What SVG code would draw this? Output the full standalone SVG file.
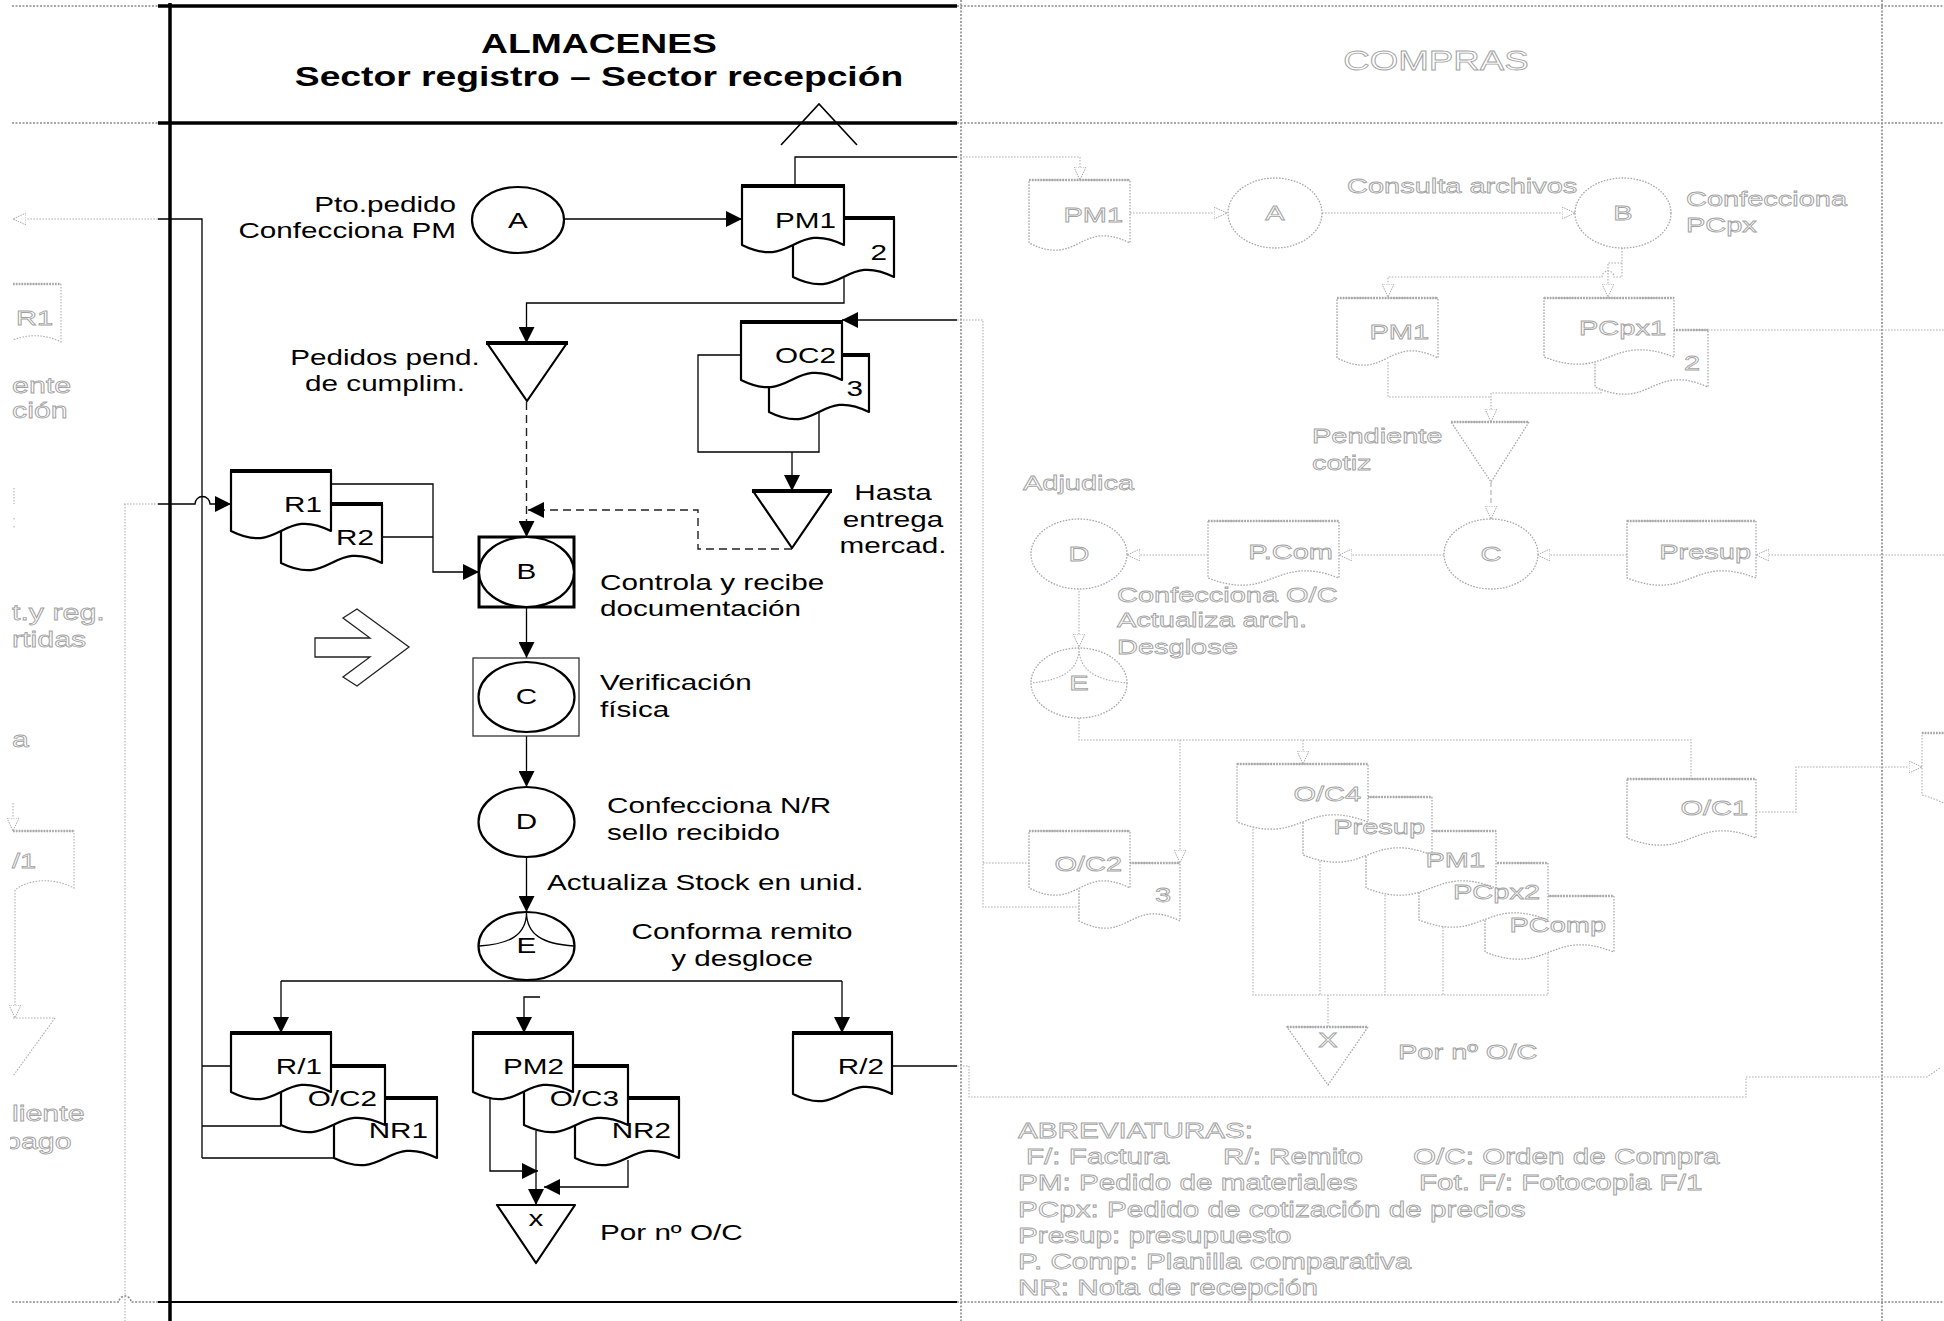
<svg xmlns="http://www.w3.org/2000/svg" width="1944" height="1321" viewBox="0 0 1944 1321">
<defs>
<style>
.k{fill:none;stroke:#000;stroke-width:1.3}
.kd{fill:none;stroke:#222;stroke-width:1.4;stroke-dasharray:8 5}
.nd{fill:#fff;stroke:#000;stroke-width:2.2;stroke-linejoin:round}
.tp{fill:none;stroke:#000;stroke-width:4.2}
.t{font-family:"Liberation Sans",Arial,Helvetica,sans-serif;font-size:21.5px;fill:#000}
.tb{font-family:"Liberation Sans",Arial,Helvetica,sans-serif;font-size:27px;font-weight:bold;fill:#000}
.g{fill:none;stroke:#b0b0b0;stroke-width:1.1;stroke-dasharray:1.6 1.4}
.gd{fill:none;stroke:#b0b0b0;stroke-width:1.1;stroke-dasharray:5 3}
.gn{fill:#fff;stroke:#a8a8a8;stroke-width:1.3;stroke-dasharray:1.6 1.4}
.gtp{fill:none;stroke:#a8a8a8;stroke-width:2.6;stroke-dasharray:1.6 1.2}
.ln{fill:none;stroke:#8c8c8c;stroke-width:1.6;stroke-dasharray:2 1.5}
.gt{font-family:"Liberation Sans",Arial,Helvetica,sans-serif;font-size:21px;fill:#fff;stroke:#a3a3a3;stroke-width:0.8}
</style>
<marker id="ah" markerUnits="userSpaceOnUse" markerWidth="17" markerHeight="16" refX="16" refY="8" orient="auto"><path d="M0,0 L16,8 L0,16 z" fill="#000"/></marker>
<marker id="ag" markerUnits="userSpaceOnUse" markerWidth="14" markerHeight="12" refX="13" refY="6" orient="auto"><path d="M0,0 L13,6 L0,12 z" fill="#fff" stroke="#a8a8a8" stroke-width="1" stroke-dasharray="1.5 1"/></marker>
<clipPath id="lc"><rect x="10" y="0" width="150" height="1321"/></clipPath>
</defs>
<rect x="0" y="0" width="1944" height="1321" fill="#fff"/>

<!-- lanes -->
<g id="lanes">
<path class="ln" d="M12,6 H158 M12,123 H158 M957,6 H1944 M957,123 H1944 M957,1302 H1944 M961,0 V1321 M1882,0 V1321"/>
<path class="ln" d="M12,1302 H119 A6,6 0 0 1 131,1302 H158"/>
<path d="M158,6 H957 M158,123 H957" stroke="#000" stroke-width="3.5" fill="none"/>
<path d="M170,3 V1321" stroke="#000" stroke-width="3.5" fill="none"/>
<path d="M158,1302 H957" stroke="#000" stroke-width="2" fill="none"/>
<text class="tb" transform="translate(599 53) scale(1.38 1)" text-anchor="middle">ALMACENES</text>
<text class="tb" transform="translate(599 86) scale(1.38 1)" text-anchor="middle">Sector registro – Sector recepción</text>
<text class="gt" style="font-size:27px" transform="translate(1436 70) scale(1.36 1)" text-anchor="middle">COMPRAS</text>
</g>

<!-- faded connectors (COMPRAS and left) -->
<g id="faded-connectors">
<path class="g" d="M158,219 H13" marker-end="url(#ag)"/>
<path class="g" d="M125,504 V1321"/>
<path class="g" d="M957,157 H1080 V180" marker-end="url(#ag)"/>
<path class="g" d="M1130,213 H1227" marker-end="url(#ag)"/>
<path class="g" d="M1322,213 H1575" marker-end="url(#ag)"/>
<path class="g" d="M1622,248 V277 H1614 A6,6 0 0 0 1602,277 H1388 V297" marker-end="url(#ag)"/>
<path class="g" d="M1622,263 H1608 V297" marker-end="url(#ag)"/>
<path class="g" d="M1388,362 V397 H1491 M1601,389 V393 H1491"/>
<path class="g" d="M1491,393 V422" marker-end="url(#ag)"/>
<path class="gd" d="M1491,482 V519" marker-end="url(#ag)"/>
<path class="g" d="M1944,555 H1756" marker-end="url(#ag)"/>
<path class="g" d="M1627,555 H1537" marker-end="url(#ag)"/>
<path class="g" d="M1444,555 H1339" marker-end="url(#ag)"/>
<path class="g" d="M1208,555 H1127" marker-end="url(#ag)"/>
<path class="g" d="M1079,588 V647" marker-end="url(#ag)"/>
<path class="g" d="M1079,718 V740 H1691 V779"/>
<path class="g" d="M1180,740 V863" marker-end="url(#ag)"/>
<path class="g" d="M1303,740 V764" marker-end="url(#ag)"/>
<path class="g" d="M1756,812 H1796 V767 H1922" marker-end="url(#ag)"/>
<path class="g" d="M1253,826 V995 H1548 V920 M1320,858 V995 M1385,892 V995 M1443,924 V995 M1328,995 V1027"/>
<path class="g" d="M957,320 H983 V907 H1079 M983,863 H1029"/>
<path class="g" d="M957,1066 H969 V1097 H1746 V1077 H1927 L1940,1068"/>
<path class="g" d="M13,803 V831" marker-end="url(#ag)"/>
<path class="g" d="M15,890 V1018" marker-end="url(#ag)"/>
</g>

<!-- faded nodes -->
<g id="c-PM1a"><path class="gn" d="M1029,180 H1130 V243 C1079.5,218 1079.5,268 1029,243 Z"/><path class="gtp" d="M1029,180 H1130"/><text class="gt" transform="translate(1123 222) scale(1.38 1)" text-anchor="end">PM1</text></g>
<g id="c-A"><ellipse class="gn" cx="1275" cy="213" rx="47" ry="35"/><text class="gt" transform="translate(1275 220) scale(1.38 1)" text-anchor="middle">A</text></g>
<g id="c-B"><ellipse class="gn" cx="1623" cy="213" rx="48" ry="35"/><text class="gt" transform="translate(1623 220) scale(1.38 1)" text-anchor="middle">B</text></g>
<text class="gt" transform="translate(1347 193) scale(1.38 1)">Consulta archivos</text>
<text class="gt" transform="translate(1686 206) scale(1.38 1)">Confecciona</text>
<text class="gt" transform="translate(1686 232) scale(1.38 1)">PCpx</text>
<g id="c-PM1b"><path class="gn" d="M1337,298 H1438 V358 C1387.5,333 1387.5,383 1337,358 Z"/><path class="gtp" d="M1337,298 H1438"/><text class="gt" transform="translate(1429 339) scale(1.38 1)" text-anchor="end">PM1</text></g>
<g id="c-PCpx1">
<path class="gn" d="M1595,330 H1708 V387 C1651.5,362 1651.5,412 1595,387 Z"/><path class="gtp" d="M1595,330 H1708"/>
<path class="gn" d="M1544,298 H1674 V357 C1609,332 1609,382 1544,357 Z"/><path class="gtp" d="M1544,298 H1674"/>
<text class="gt" transform="translate(1666 335) scale(1.38 1)" text-anchor="end">PCpx1</text>
<text class="gt" transform="translate(1700 370) scale(1.38 1)" text-anchor="end">2</text>
</g>
<path class="g" d="M1708,330 H1944"/>
<g id="c-pend"><path class="gn" d="M1451,422 H1529 L1491,482 Z"/><path class="gtp" d="M1451,422 H1529"/>
<text class="gt" transform="translate(1312 443) scale(1.38 1)">Pendiente</text>
<text class="gt" transform="translate(1312 470) scale(1.38 1)">cotiz</text></g>
<text class="gt" transform="translate(1023 490) scale(1.38 1)">Adjudica</text>
<g id="c-C"><ellipse class="gn" cx="1491" cy="554" rx="47" ry="35"/><text class="gt" transform="translate(1491 561) scale(1.38 1)" text-anchor="middle">C</text></g>
<g id="c-Presup"><path class="gn" d="M1627,521 H1756 V578 C1691.5,553 1691.5,603 1627,578 Z"/><path class="gtp" d="M1627,521 H1756"/><text class="gt" transform="translate(1751 559) scale(1.38 1)" text-anchor="end">Presup</text></g>
<g id="c-PCom"><path class="gn" d="M1208,521 H1339 V578 C1273.5,553 1273.5,603 1208,578 Z"/><path class="gtp" d="M1208,521 H1339"/><text class="gt" transform="translate(1333 559) scale(1.38 1)" text-anchor="end">P.Com</text></g>
<g id="c-D"><ellipse class="gn" cx="1079" cy="554" rx="48" ry="35"/><text class="gt" transform="translate(1079 561) scale(1.38 1)" text-anchor="middle">D</text></g>
<text class="gt" transform="translate(1117 602) scale(1.38 1)">Confecciona O/C</text>
<text class="gt" transform="translate(1117 627) scale(1.38 1)">Actualiza arch.</text>
<text class="gt" transform="translate(1117 654) scale(1.38 1)">Desglose</text>
<g id="c-E"><ellipse class="gn" cx="1079" cy="683" rx="48" ry="35"/><path class="g" d="M1079,648 C1079,670 1063,680 1031,683 M1079,648 C1079,670 1095,680 1127,683"/><text class="gt" transform="translate(1079 690) scale(1.38 1)" text-anchor="middle">E</text></g>
<g id="c-OC2">
<path class="gn" d="M1079,863 H1180 V921 C1129.5,896 1129.5,946 1079,921 Z"/><path class="gtp" d="M1079,863 H1180"/>
<path class="gn" d="M1029,831 H1130 V888 C1079.5,863 1079.5,913 1029,888 Z"/><path class="gtp" d="M1029,831 H1130"/>
<text class="gt" transform="translate(1122 871) scale(1.38 1)" text-anchor="end">O/C2</text>
<text class="gt" transform="translate(1171 902) scale(1.38 1)" text-anchor="end">3</text>
</g>
<g id="c-OC4">
<path class="gn" d="M1485,896 H1614 V952 C1549.5,927 1549.5,977 1485,952 Z"/><path class="gtp" d="M1485,896 H1614"/>
<path class="gn" d="M1419,863 H1548 V920 C1483.5,895 1483.5,945 1419,920 Z"/><path class="gtp" d="M1419,863 H1548"/>
<path class="gn" d="M1366,831 H1496 V888 C1431,863 1431,913 1366,888 Z"/><path class="gtp" d="M1366,831 H1496"/>
<path class="gn" d="M1303,797 H1432 V855 C1367.5,830 1367.5,880 1303,855 Z"/><path class="gtp" d="M1303,797 H1432"/>
<path class="gn" d="M1237,764 H1368 V822 C1302.5,797 1302.5,847 1237,822 Z"/><path class="gtp" d="M1237,764 H1368"/>
<text class="gt" transform="translate(1361 801) scale(1.38 1)" text-anchor="end">O/C4</text>
<text class="gt" transform="translate(1425 834) scale(1.38 1)" text-anchor="end">Presup</text>
<text class="gt" transform="translate(1485 867) scale(1.38 1)" text-anchor="end">PM1</text>
<text class="gt" transform="translate(1540 899) scale(1.38 1)" text-anchor="end">PCpx2</text>
<text class="gt" transform="translate(1606 932) scale(1.38 1)" text-anchor="end">PComp</text>
</g>
<g id="c-OC1"><path class="gn" d="M1627,779 H1756 V838 C1691.5,813 1691.5,863 1627,838 Z"/><path class="gtp" d="M1627,779 H1756"/><text class="gt" transform="translate(1748 815) scale(1.38 1)" text-anchor="end">O/C1</text></g>
<g id="c-edge-doc"><path class="g" d="M1944,733 H1922 V795 C1930,797 1937,800 1944,803"/><path class="gtp" d="M1922,733 H1944"/></g>
<g id="c-X"><path class="gn" d="M1287,1027 H1368 L1328,1085 Z"/><path class="gtp" d="M1287,1027 H1368"/><text class="gt" transform="translate(1328 1047) scale(1.38 1)" text-anchor="middle">X</text>
<text class="gt" transform="translate(1398 1059) scale(1.38 1)">Por nº O/C</text></g>
<g id="abreviaturas">
<text class="gt" style="font-size:21.5px" transform="translate(1018 1138) scale(1.38 1)">ABREVIATURAS:</text>
<text class="gt" style="font-size:21.5px" transform="translate(1026 1164) scale(1.38 1)">F/: Factura</text>
<text class="gt" style="font-size:21.5px" transform="translate(1223 1164) scale(1.38 1)">R/: Remito</text>
<text class="gt" style="font-size:21.5px" transform="translate(1413 1164) scale(1.38 1)">O/C: Orden de Compra</text>
<text class="gt" style="font-size:21.5px" transform="translate(1018 1190) scale(1.38 1)">PM: Pedido de materiales</text>
<text class="gt" style="font-size:21.5px" transform="translate(1419 1190) scale(1.38 1)">Fot. F/: Fotocopia F/1</text>
<text class="gt" style="font-size:21.5px" transform="translate(1018 1217) scale(1.38 1)">PCpx: Pedido de cotización de precios</text>
<text class="gt" style="font-size:21.5px" transform="translate(1018 1243) scale(1.38 1)">Presup: presupuesto</text>
<text class="gt" style="font-size:21.5px" transform="translate(1018 1269) scale(1.38 1)">P. Comp: Planilla comparativa</text>
<text class="gt" style="font-size:21.5px" transform="translate(1018 1295) scale(1.38 1)">NR: Nota de recepción</text>
</g>

<!-- left edge partial lane -->
<g id="left-partial" clip-path="url(#lc)">
<path class="g" d="M13,284 H61 V342 C45,334 28,334 13,340"/>
<path class="gtp" d="M13,284 H61"/>
<text class="gt" transform="translate(16 325) scale(1.38 1)">R1</text>
<text class="gt" style="font-size:22px" transform="translate(12 393) scale(1.38 1)">ente</text>
<text class="gt" style="font-size:22px" transform="translate(12 418) scale(1.38 1)">ción</text>
<path class="g" d="M14,488 V504 M14,518 V521 M14,526 V529"/>
<text class="gt" style="font-size:22px" transform="translate(12 620) scale(1.38 1)">t.y reg.</text>
<text class="gt" style="font-size:22px" transform="translate(12 647) scale(1.38 1)">rtidas</text>
<text class="gt" style="font-size:22px" transform="translate(12 747) scale(1.38 1)">a</text>
<path class="g" d="M13,831 H74 V888 C55,878 30,878 15,890"/>
<path class="gtp" d="M13,831 H74"/>
<text class="gt" transform="translate(12 868) scale(1.38 1)">/1</text>
<path class="g" d="M13,1018 H55 L13,1076"/>
<text class="gt" style="font-size:22px" transform="translate(12 1121) scale(1.38 1)">liente</text>
<text class="gt" style="font-size:22px" transform="translate(4 1149) scale(1.38 1)">pago</text>
</g>

<!-- connectors (ALMACENES) -->
<g id="connectors">
<path class="k" d="M564,219 H742" marker-end="url(#ah)"/>
<path class="k" d="M795,186 V157 H957"/>
<path class="k" d="M844,278 V303 H526.5 V343" marker-end="url(#ah)"/>
<path class="kd" d="M526.5,402 V537" marker-end="url(#ah)"/>
<path class="k" d="M957,320 H842" marker-end="url(#ah)"/>
<path class="k" d="M741,355 H698 V452 H819 V413"/>
<path class="k" d="M792,452 V491" marker-end="url(#ah)"/>
<path class="kd" d="M792,549 H698 V510 H528" marker-end="url(#ah)"/>
<path class="g" d="M124,504 H158"/>
<path class="k" d="M158,504 H195 A7.5,7.5 0 0 1 210,504 H231" marker-end="url(#ah)"/>
<path class="k" d="M331,484 H433 V572 H479" marker-end="url(#ah)"/>
<path class="k" d="M382,537 H433"/>
<path class="k" d="M526.5,607 V658" marker-end="url(#ah)"/>
<path class="k" d="M526.5,736 V787" marker-end="url(#ah)"/>
<path class="k" d="M526.5,857 V912" marker-end="url(#ah)"/>
<path class="k" d="M281,981 H842"/>
<path class="k" d="M281,981 V1033" marker-end="url(#ah)"/>
<path class="k" d="M842,981 V1033" marker-end="url(#ah)"/>
<path class="k" d="M540,997 H524 V1033" marker-end="url(#ah)"/>
<path class="k" d="M158,219 H202 V1158 M202,1066 H231 M202,1126 H281 M202,1158 H334"/>
<path class="k" d="M490,1098 V1171 H538" marker-end="url(#ah)"/>
<path class="k" d="M536,1131 V1205" marker-end="url(#ah)"/>
<path class="k" d="M628,1160 V1187 H544" marker-end="url(#ah)"/>
<path class="k" d="M892,1066 H957"/>
<path class="k" style="stroke-width:1.6" d="M781,145 L819,104 L857,145"/>
</g>

<!-- nodes (ALMACENES) -->
<g id="n-A"><ellipse class="nd" cx="518" cy="220" rx="46" ry="33"/><text class="t" transform="translate(518 228) scale(1.38 1)" text-anchor="middle">A</text>
<text class="t" transform="translate(456 212) scale(1.38 1)" text-anchor="end">Pto.pedido</text>
<text class="t" transform="translate(456 238) scale(1.38 1)" text-anchor="end">Confecciona PM</text></g>
<g id="n-PM1">
<path class="nd" d="M793,218 H894 V277 C843.5,252 843.5,302 793,277 Z"/><path class="tp" d="M792,218 H895"/>
<path class="nd" d="M742,186 H844 V245 C793,220 793,270 742,245 Z"/><path class="tp" d="M741,186 H845"/>
<text class="t" transform="translate(836 228) scale(1.38 1)" text-anchor="end">PM1</text>
<text class="t" transform="translate(887 260) scale(1.38 1)" text-anchor="end">2</text>
</g>
<g id="n-pend"><path class="nd" d="M487,343 H567 L527,401 Z"/><path class="tp" d="M486,343 H568"/>
<text class="t" transform="translate(385 365) scale(1.38 1)" text-anchor="middle">Pedidos pend.</text>
<text class="t" transform="translate(385 391) scale(1.38 1)" text-anchor="middle">de cumplim.</text></g>
<g id="n-OC2">
<path class="nd" d="M769,355 H869 V412 C819,387 819,437 769,412 Z"/><path class="tp" d="M768,355 H870"/>
<path class="nd" d="M741,322 H842 V380 C791.5,355 791.5,405 741,380 Z"/><path class="tp" d="M740,322 H843"/>
<text class="t" transform="translate(836 363) scale(1.38 1)" text-anchor="end">OC2</text>
<text class="t" transform="translate(863 396) scale(1.38 1)" text-anchor="end">3</text>
</g>
<g id="n-hasta"><path class="nd" d="M753,491 H831 L792,548 Z"/><path class="tp" d="M752,491 H832"/>
<text class="t" transform="translate(893 500) scale(1.38 1)" text-anchor="middle">Hasta</text>
<text class="t" transform="translate(893 527) scale(1.38 1)" text-anchor="middle">entrega</text>
<text class="t" transform="translate(893 553) scale(1.38 1)" text-anchor="middle">mercad.</text></g>
<g id="n-R1">
<path class="nd" d="M281,504 H382 V563 C331.5,538 331.5,588 281,563 Z"/><path class="tp" d="M280,504 H383"/>
<path class="nd" d="M231,471 H331 V531 C281,506 281,556 231,531 Z"/><path class="tp" d="M230,471 H332"/>
<text class="t" transform="translate(322 512) scale(1.38 1)" text-anchor="end">R1</text>
<text class="t" transform="translate(374 545) scale(1.38 1)" text-anchor="end">R2</text>
</g>
<g id="n-B"><rect x="479" y="537" width="95" height="70" fill="#fff" stroke="#000" stroke-width="3"/><ellipse class="nd" cx="526.5" cy="572" rx="47.5" ry="35"/>
<text class="t" transform="translate(526.5 579) scale(1.38 1)" text-anchor="middle">B</text>
<text class="t" transform="translate(600 590) scale(1.38 1)">Controla y recibe</text>
<text class="t" transform="translate(600 616) scale(1.38 1)">documentación</text></g>
<g id="n-C"><rect x="473" y="658" width="106" height="78" fill="#fff" stroke="#333" stroke-width="1.3"/><ellipse class="nd" cx="526.5" cy="697" rx="48" ry="35"/>
<text class="t" transform="translate(526.5 704) scale(1.38 1)" text-anchor="middle">C</text>
<text class="t" transform="translate(600 690) scale(1.38 1)">Verificación</text>
<text class="t" transform="translate(600 717) scale(1.38 1)">física</text></g>
<g id="n-D"><ellipse class="nd" cx="526.5" cy="822" rx="48" ry="35"/>
<text class="t" transform="translate(526.5 829) scale(1.38 1)" text-anchor="middle">D</text>
<text class="t" transform="translate(607 813) scale(1.38 1)">Confecciona N/R</text>
<text class="t" transform="translate(607 840) scale(1.38 1)">sello recibido</text>
<text class="t" transform="translate(547 890) scale(1.38 1)">Actualiza Stock en unid.</text></g>
<g id="n-E"><ellipse class="nd" cx="526.5" cy="946" rx="48" ry="34"/>
<path class="k" d="M526.5,912 C526.5,935 510,944 479,946 M526.5,912 C526.5,935 543,944 574,946"/>
<text class="t" transform="translate(526.5 953) scale(1.38 1)" text-anchor="middle">E</text>
<text class="t" transform="translate(742 939) scale(1.38 1)" text-anchor="middle">Conforma remito</text>
<text class="t" transform="translate(742 966) scale(1.38 1)" text-anchor="middle">y desgloce</text></g>
<g id="n-R1grp">
<path class="nd" d="M334,1098 H437 V1158 C385.5,1133 385.5,1183 334,1158 Z"/><path class="tp" d="M333,1098 H438"/>
<path class="nd" d="M281,1066 H385 V1125 C333,1100 333,1150 281,1125 Z"/><path class="tp" d="M280,1066 H386"/>
<path class="nd" d="M231,1033 H331 V1092 C281,1067 281,1117 231,1092 Z"/><path class="tp" d="M230,1033 H332"/>
<text class="t" transform="translate(322 1074) scale(1.38 1)" text-anchor="end">R/1</text>
<text class="t" transform="translate(377 1106) scale(1.38 1)" text-anchor="end">O/C2</text>
<text class="t" transform="translate(428 1138) scale(1.38 1)" text-anchor="end">NR1</text>
</g>
<g id="n-PM2grp">
<path class="nd" d="M575,1098 H679 V1158 C627,1133 627,1183 575,1158 Z"/><path class="tp" d="M574,1098 H680"/>
<path class="nd" d="M524,1066 H628 V1125 C576,1100 576,1150 524,1125 Z"/><path class="tp" d="M523,1066 H629"/>
<path class="nd" d="M473,1033 H573 V1092 C523,1067 523,1117 473,1092 Z"/><path class="tp" d="M472,1033 H574"/>
<text class="t" transform="translate(564 1074) scale(1.38 1)" text-anchor="end">PM2</text>
<text class="t" transform="translate(619 1106) scale(1.38 1)" text-anchor="end">O/C3</text>
<text class="t" transform="translate(671 1138) scale(1.38 1)" text-anchor="end">NR2</text>
</g>
<g id="n-R2"><path class="nd" d="M793,1033 H892 V1094 C842.5,1069 842.5,1119 793,1094 Z"/><path class="tp" d="M792,1033 H893"/>
<text class="t" transform="translate(884 1074) scale(1.38 1)" text-anchor="end">R/2</text></g>
<g id="n-X"><path class="nd" d="M497,1205 H575 L536,1263 Z"/>
<text class="t" transform="translate(536 1226) scale(1.38 1)" text-anchor="middle">x</text>
<text class="t" transform="translate(600 1240) scale(1.38 1)">Por nº O/C</text></g>
<g id="n-arrow"><polygon points="315,638 370,638 343,618 357,609 409,647 357,686 343,677 370,657 315,657" fill="#fff" stroke="#222" stroke-width="1.3"/></g>
</svg>
